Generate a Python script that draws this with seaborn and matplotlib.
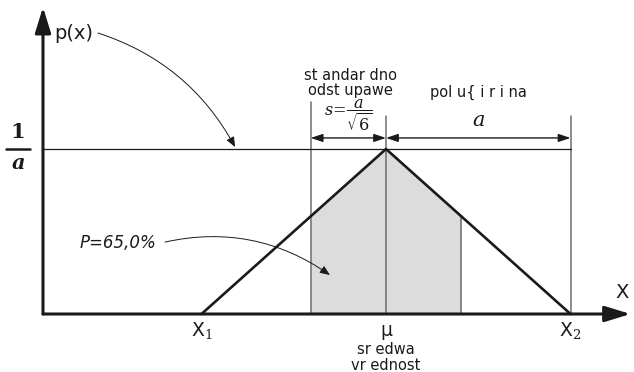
import numpy as np
import pandas as pd
import matplotlib
matplotlib.use("Agg")
import matplotlib.pyplot as plt
from matplotlib.patches import FancyArrowPatch
import seaborn as sns

sns.set_theme(style="white")
plt.rcParams["font.family"] = ["DejaVu Sans"]
plt.rcParams["mathtext.fontset"] = "dejavuserif"

# Triangular distribution: half-width a, centred on mu
a = 1.0
x1, mu, x2 = -1.0, 0.0, 1.0
positions = [x1, mu, x2]
density = [0.0, 1.0 / a, 0.0]
sigma = a / np.sqrt(6)          # standard deviation of the triangle
prob_label = "P=65,0%"

point_labels = ["X$_1$", "μ", "X$_2$"]
mean_words = ["sr edwa", "vr ednost"]
std_words = ["st andar dno", "odst upawe"]
half_width_word = "pol u{ i r i na"

df = pd.DataFrame({"x": positions, "p": density})

fig = plt.figure(figsize=(6.34, 3.72), dpi=100)
ax = fig.add_axes([0, 0, 1, 1])
ax.set_xlim(-2.092, 1.344)
ax.set_ylim(-0.3515, 1.903)
ax.axis("off")

ink = "#1a1a1a"
gray_line = "#6e6e6e"

# shaded band mu +- sigma under the triangle
xs = np.array([mu - sigma, mu, mu + sigma])
ys = np.interp(xs, positions, density)
ax.fill_between(xs, 0, ys, color="#dcdcdc", lw=0, zorder=1)

# triangle
sns.lineplot(data=df, x="x", y="p", ax=ax, color=ink, lw=1.9, sort=False,
             zorder=4, legend=False)

# axes with arrow heads
y_axis_x = -1.859
ax.annotate("", xy=(y_axis_x, 1.86), xytext=(y_axis_x, 0.0),
            arrowprops=dict(arrowstyle="-|>,head_length=1.3,head_width=0.4",
                            lw=2.2, color=ink, shrinkA=0, shrinkB=0), zorder=5)
ax.annotate("", xy=(1.325, 0.0), xytext=(y_axis_x, 0.0),
            arrowprops=dict(arrowstyle="-|>,head_length=1.3,head_width=0.4",
                            lw=2.2, color=ink, shrinkA=0, shrinkB=0), zorder=5)

# level 1/a
ax.plot([y_axis_x, x2], [1.0 / a, 1.0 / a], color=ink, lw=0.9, zorder=3)

# guide lines
ax.plot([mu - sigma, mu - sigma], [0, 1.285], color=gray_line, lw=1.1, zorder=2)
ax.plot([mu, mu], [0, 1.2], color=gray_line, lw=1.1, zorder=2)
ax.plot([x2, x2], [0, 1.2], color=gray_line, lw=1.1, zorder=2)
ax.plot([mu + sigma, mu + sigma], [0, ys[2]], color=gray_line, lw=1.1, zorder=2)

# dimension arrows
dim_y = 1.067
for left, right in [(mu - sigma, mu), (mu, x2)]:
    ax.annotate("", xy=(right, dim_y), xytext=(left, dim_y),
                arrowprops=dict(arrowstyle="<|-|>,head_length=0.6,head_width=0.2",
                                lw=1.0, color=ink, shrinkA=0, shrinkB=0), zorder=3)

# 1/a label on the y axis
ax.text(-1.995, 1.04, "1", ha="center", va="bottom", fontsize=15,
        fontweight="bold", family="DejaVu Serif", color=ink)
ax.plot([-2.060, -1.930], [1.0, 1.0], color=ink, lw=1.8)
ax.text(-1.995, 0.975, "$\\boldsymbol{a}$", ha="center", va="top", fontsize=15,
        color=ink)

ax.text(-1.80, 1.703, "p(x)", ha="left", va="center", fontsize=14, color=ink)
ax.add_patch(FancyArrowPatch((-1.561, 1.703), (-0.818, 1.012),
                             connectionstyle="arc3,rad=-0.2",
                             arrowstyle="-|>,head_length=6,head_width=2.5",
                             lw=0.7, color=ink, shrinkA=0, shrinkB=0))

ax.text(-0.195, 1.448, std_words[0], ha="center", va="center", fontsize=10.5, color=ink)
ax.text(-0.195, 1.355, std_words[1], ha="center", va="center", fontsize=10.5, color=ink)
ax.text(-0.205, 1.2, r"$s\!=\!\dfrac{a}{\sqrt{6}}$", ha="center", va="center",
        fontsize=11.5, color=ink)

ax.text(0.5, 1.345, half_width_word, ha="center", va="center", fontsize=10.5, color=ink)
ax.text(0.5, 1.176, "$a$", ha="center", va="center", fontsize=15, color=ink)

ax.text(-1.659, 0.43, prob_label, ha="left", va="center", fontsize=12,
        style="italic", color=ink)
ax.add_patch(FancyArrowPatch((-1.198, 0.436), (-0.304, 0.236),
                             connectionstyle="arc3,rad=-0.22",
                             arrowstyle="-|>,head_length=6,head_width=2.5",
                             lw=0.7, color=ink, shrinkA=0, shrinkB=0, zorder=5))

ax.text(1.279, 0.133, "X", ha="center", va="center", fontsize=14, color=ink)
for px, lab in zip(positions, point_labels):
    ax.text(px, -0.1, lab, ha="center", va="center", fontsize=13.5, color=ink)
ax.text(mu, -0.218, mean_words[0], ha="center", va="center", fontsize=10.5, color=ink)
ax.text(mu, -0.315, mean_words[1], ha="center", va="center", fontsize=10.5, color=ink)

fig.savefig("out.png", dpi=100)
